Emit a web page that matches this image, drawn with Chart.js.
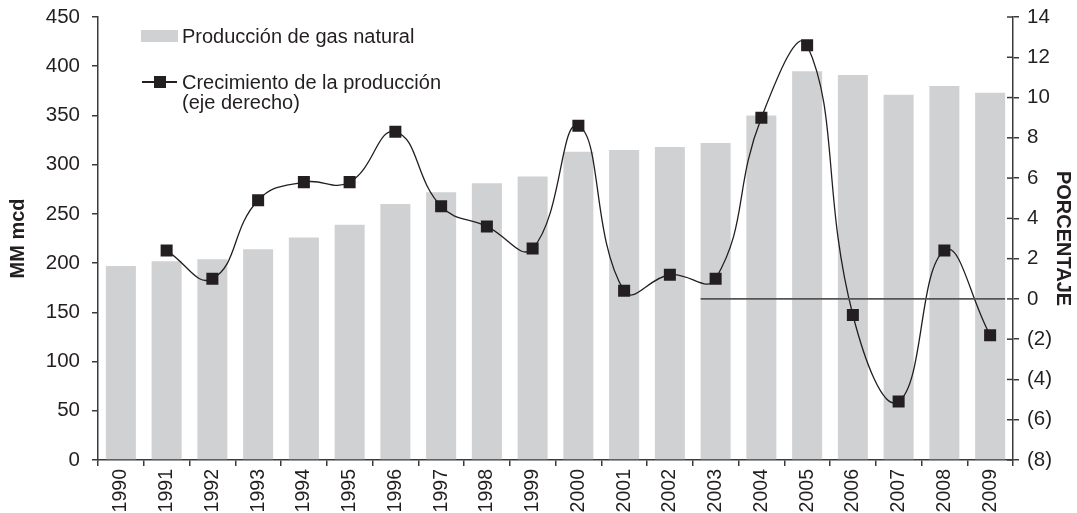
<!DOCTYPE html>
<html>
<head>
<meta charset="utf-8">
<script src="https://cdn.jsdelivr.net/npm/chart.js@4.4.1/dist/chart.umd.min.js"></script>
<style>
  html, body { margin: 0; padding: 0; background: #fff; }
  #wrap { position: relative; width: 1077px; height: 513px; }
  #canvas { display: block; }
  .lg { position: absolute; font-family: "Liberation Sans", Arial, sans-serif; font-size: 20px; color: #231f20; line-height: 20px; }
  .sw { position: absolute; }
</style>
</head>
<body>
<div id="wrap">
  <canvas id="canvas" width="1077" height="513"></canvas>
  <div class="sw" style="left:141px;top:30px;width:37px;height:12px;background:#d0d1d3;"></div>
  <div class="lg" style="left:182px;top:26px;">Producción de gas natural</div>
  <div class="sw" style="left:142px;top:81px;width:35px;height:1.5px;background:#231f20;"></div>
  <div class="sw" style="left:154px;top:76px;width:12px;height:12px;background:#231f20;"></div>
  <div class="lg" style="left:182px;top:72px;">Crecimiento de la producción<br>(eje derecho)</div>
</div>
<script>
// años
var years = ['1990','1991','1992','1993','1994','1995','1996','1997','1998','1999',
             '2000','2001','2002','2003','2004','2005','2006','2007','2008','2009'];
// produccion MM mcd (eje izq)
var produccion = [197, 202, 204, 214, 226, 239, 260, 272, 281, 288,
                  313, 315, 318, 322, 350, 395, 391, 371, 380, 373];
// crecimiento % (eje der)
var crecimiento = [null, 2.4, 1.0, 4.9, 5.8, 5.8, 8.3, 4.6, 3.6, 2.5,
                   8.6, 0.4, 1.2, 1.0, 9.0, 12.6, -0.8, -5.1, 2.4, -1.8];
// linea de cero, desde 2003 hasta 2009
var ceroDesde = 13, ceroHasta = 19;

var font = "'Liberation Sans', Arial, sans-serif";
var ink = '#231f20';
var axisCol = '#3a3a3a';

var ceroLinea = {
  id: 'ceroLinea',
  afterDatasetsDraw: function(chart){
    var ctx = chart.ctx;
    var x = chart.scales.x, y2 = chart.scales.y2;
    var meta = chart.getDatasetMeta(1);
    var half = meta.data[0] ? meta.data[0].width / 2 : 15;
    var yy = y2.getPixelForValue(0);
    ctx.save();
    ctx.strokeStyle = '#555';
    ctx.lineWidth = 1.6;
    ctx.beginPath();
    ctx.moveTo(x.getPixelForValue(ceroDesde) - half, yy);
    ctx.lineTo(x.getPixelForValue(ceroHasta) + half, yy);
    ctx.stroke();
    // ticks interiores del eje derecho
    ctx.strokeStyle = axisCol;
    ctx.lineWidth = 1.5;
    y2.ticks.forEach(function(t){
      var py = y2.getPixelForValue(t.value);
      ctx.beginPath();
      ctx.moveTo(y2.left - 6, py);
      ctx.lineTo(y2.left, py);
      ctx.stroke();
    });
    ctx.restore();
  }
};

function fitY(w){
  return function(s){
    s.width = w;
    s.paddingTop = 0;
    s.paddingBottom = 0;
  };
}

var canvas = document.getElementById('canvas');
var ctx = canvas.getContext('2d');
var chart = new Chart(ctx, {
  type: 'bar',
  data: {
    labels: years,
    datasets: [
      {
        type: 'line',
        label: 'Crecimiento de la producción (eje derecho)',
        data: crecimiento,
        yAxisID: 'y2',
        order: 0,
        borderColor: ink,
        borderWidth: 1.3,
        tension: 0.45,
        pointStyle: 'rect',
        pointRadius: 8.5,
        pointBackgroundColor: ink,
        pointBorderColor: ink,
        pointBorderWidth: 0,
        fill: false
      },
      {
        type: 'bar',
        label: 'Producción de gas natural',
        data: produccion,
        yAxisID: 'y',
        order: 1,
        backgroundColor: '#d0d1d3',
        borderWidth: 0,
        barPercentage: 0.656,
        categoryPercentage: 1.0
      }
    ]
  },
  options: {
    responsive: false,
    animation: false,
    devicePixelRatio: 1,
    layout: { padding: { top: 17, left: 0, right: 0, bottom: 0 } },
    plugins: { legend: { display: false }, tooltip: { enabled: false } },
    scales: {
      x: {
        grid: { offset: true, drawOnChartArea: false, drawTicks: true, tickLength: 6, color: axisCol, lineWidth: 1.5 },
        border: { color: axisCol, width: 1.5 },
        ticks: { color: ink, font: { family: font, size: 19.5 }, minRotation: 90, maxRotation: 90, padding: 3, autoSkip: false },
        afterFit: function(s){ s.height = 53; s.paddingLeft = 0; s.paddingRight = 0; }
      },
      y: {
        position: 'left',
        min: 0, max: 450,
        ticks: { stepSize: 50, color: ink, font: { family: font, size: 20.5 }, padding: 12 },
        grid: { drawOnChartArea: false, tickLength: 6, color: axisCol, lineWidth: 1.5 },
        border: { color: axisCol, width: 1.5 },
        title: { display: true, text: 'MM mcd', color: ink, font: { family: font, size: 20, weight: 'bold' }, padding: { top: 6, bottom: 0 } },
        afterFit: fitY(98)
      },
      y2: {
        position: 'right',
        min: -8, max: 14,
        ticks: {
          stepSize: 2, color: ink, font: { family: font, size: 20.5 }, padding: 8,
          callback: function(v){ return v < 0 ? '(' + (-v) + ')' : v; }
        },
        grid: { drawOnChartArea: false, tickLength: 6, color: axisCol, lineWidth: 1.5 },
        border: { color: axisCol, width: 1.5 },
        title: { display: true, text: 'PORCENTAJE', color: ink, font: { family: font, size: 20, weight: 'bold' }, padding: { top: 2, bottom: 0 } },
        afterFit: fitY(64)
      }
    }
  },
  plugins: [ceroLinea]
});
</script>
</body>
</html>
